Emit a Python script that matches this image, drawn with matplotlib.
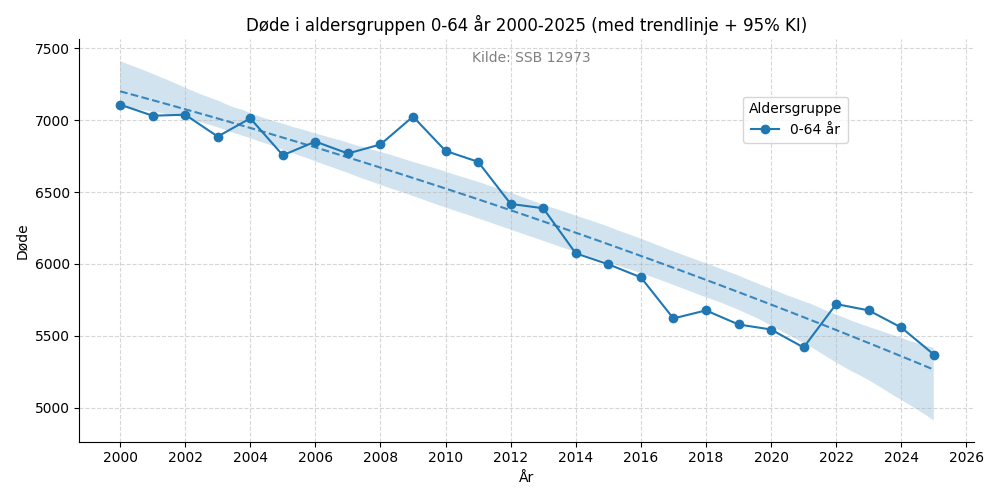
import matplotlib
matplotlib.use("Agg")
import matplotlib.pyplot as plt
import numpy as np
import pandas as pd
import seaborn as sns

years = list(range(2000, 2026))
deaths = [7109, 7032, 7039, 6887, 7014, 6757, 6852, 6769, 6832, 7026,
          6787, 6711, 6418, 6388, 6074, 5998, 5907, 5621, 5677, 5579,
          5544, 5419, 5721, 5677, 5558, 5370]
xticks = list(range(2000, 2027, 2))

df = pd.DataFrame({"År": years, "Døde": deaths})

fig, ax = plt.subplots(figsize=(10, 5), dpi=100)
ax.plot(df["År"], df["Døde"], marker="o", color="#1f77b4", linewidth=1.5,
        markersize=6, label="0-64 år", zorder=3)
sns.regplot(data=df, x="År", y="Døde", scatter=False, ci=95, n_boot=1000, seed=3,
            order=2, ax=ax, color="#1f77b4",
            line_kws={"linestyle": "--", "linewidth": 1.5, "alpha": 0.85})
for coll in ax.collections:
    coll.set_alpha(0.2)

ax.set_title("Døde i aldersgruppen 0-64 år 2000-2025 (med trendlinje + 95% KI)", fontsize=12)
ax.set_xlabel("År")
ax.set_ylabel("Døde")
ax.set_xticks(xticks)
ax.set_ylim(4763, 7563)
ax.grid(True, linestyle="--", alpha=0.5)
ax.text(0.505, 0.972, "Kilde: SSB 12973", transform=ax.transAxes, ha="center", va="top",
        color="gray", fontsize=10)
ax.legend(title="Aldersgruppe", loc="upper right", bbox_to_anchor=(0.866, 0.875))
sns.despine(ax=ax)
fig.tight_layout()
fig.savefig("out.png", dpi=100)
